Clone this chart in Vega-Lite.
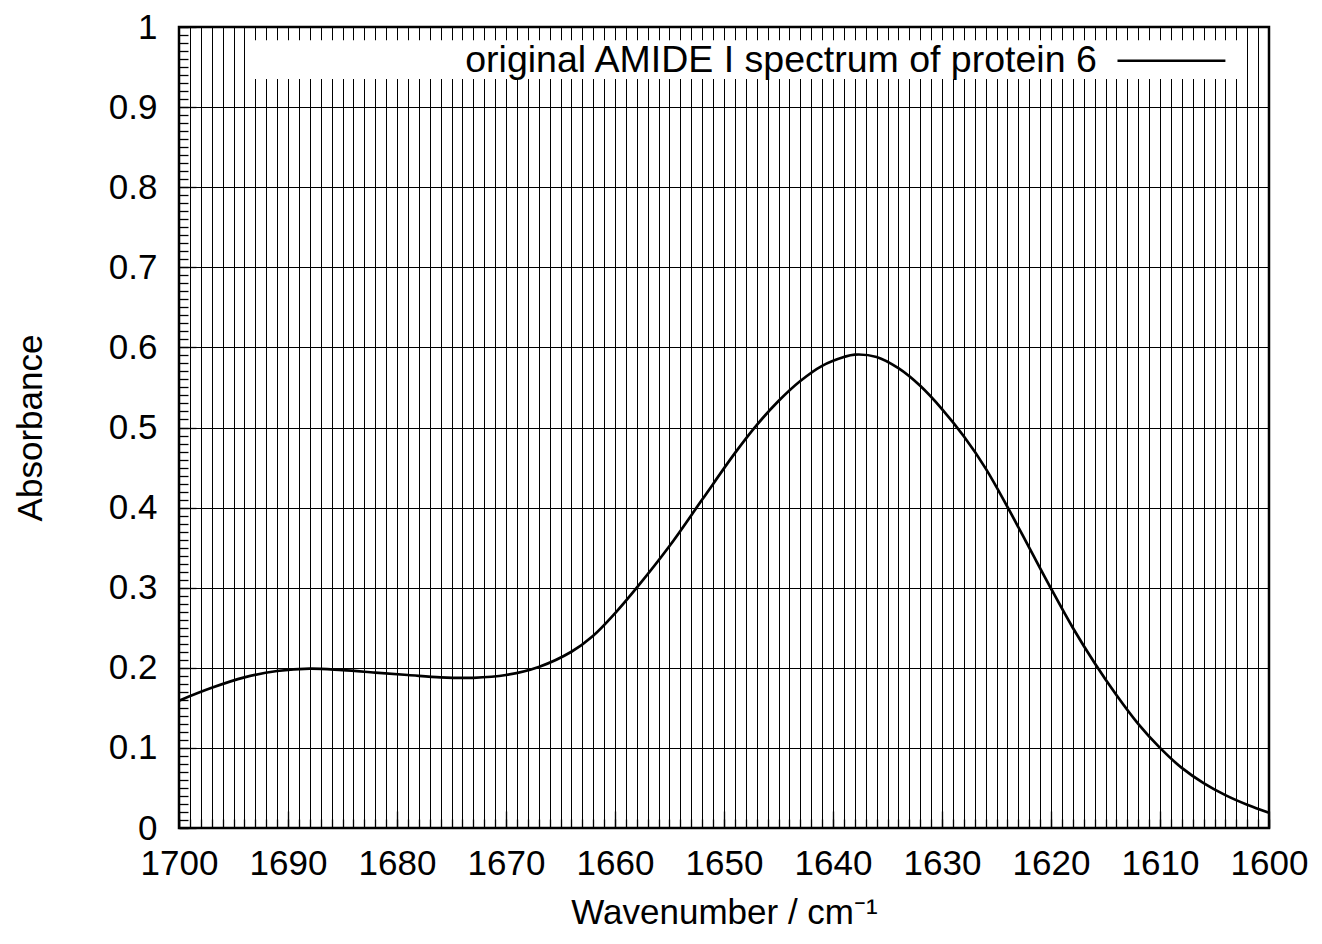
{
  "$schema": "https://vega.github.io/schema/vega-lite/v6.json",
  "width": 1090,
  "height": 801,
  "autosize": {"type": "none"},
  "padding": {"left": 179, "top": 27, "right": 53, "bottom": 116},
  "background": "white",
  "config": {
    "view": {"stroke": "#000", "strokeWidth": 2.5},
    "font": "Liberation Sans",
    "axis": {
      "labelFont": "Liberation Sans",
      "titleFont": "Liberation Sans",
      "labelColor": "#000",
      "titleColor": "#000",
      "labelFontSize": 35,
      "titleFontSize": 35,
      "titleFontWeight": "normal",
      "domain": false,
      "tickColor": "#000",
      "gridColor": "#000",
      "gridOpacity": 1,
      "gridWidth": 1,
      "tickWidth": 1.3,
      "labelOverlap": false,
      "labelFlush": false
    }
  },
  "datasets": {
    "spectrum": [
      {"w": 1700, "a": 0.159},
      {"w": 1697, "a": 0.175},
      {"w": 1694, "a": 0.188},
      {"w": 1691, "a": 0.196},
      {"w": 1688, "a": 0.199},
      {"w": 1685, "a": 0.197},
      {"w": 1682, "a": 0.194},
      {"w": 1679, "a": 0.191},
      {"w": 1676, "a": 0.188},
      {"w": 1673, "a": 0.1875},
      {"w": 1670, "a": 0.191},
      {"w": 1667, "a": 0.201},
      {"w": 1664, "a": 0.22},
      {"w": 1662, "a": 0.24},
      {"w": 1660, "a": 0.268},
      {"w": 1658, "a": 0.3},
      {"w": 1655, "a": 0.352},
      {"w": 1652, "a": 0.41},
      {"w": 1649, "a": 0.468},
      {"w": 1647, "a": 0.503},
      {"w": 1645, "a": 0.533},
      {"w": 1643, "a": 0.558},
      {"w": 1641, "a": 0.577},
      {"w": 1639, "a": 0.588},
      {"w": 1638, "a": 0.591},
      {"w": 1636, "a": 0.588},
      {"w": 1634, "a": 0.574},
      {"w": 1632, "a": 0.552},
      {"w": 1630, "a": 0.523},
      {"w": 1628, "a": 0.489},
      {"w": 1626, "a": 0.449},
      {"w": 1624, "a": 0.401},
      {"w": 1622, "a": 0.35},
      {"w": 1620, "a": 0.299},
      {"w": 1618, "a": 0.25},
      {"w": 1616, "a": 0.206},
      {"w": 1614, "a": 0.166},
      {"w": 1612, "a": 0.13},
      {"w": 1610, "a": 0.1},
      {"w": 1608, "a": 0.075},
      {"w": 1606, "a": 0.056},
      {"w": 1604, "a": 0.041},
      {"w": 1602, "a": 0.029},
      {"w": 1600, "a": 0.019}
    ]
  },
  "resolve": {"axis": {"x": "independent", "y": "independent"}},
  "layer": [
    {
      "data": {"name": "spectrum"},
      "mark": {"type": "point", "opacity": 0},
      "encoding": {
        "x": {
          "field": "w", "type": "quantitative",
          "scale": {"domain": [1600, 1700], "reverse": true, "nice": false, "zero": false},
          "axis": {
            "orient": "bottom",
            "values": [1600,1601,1602,1603,1604,1605,1606,1607,1608,1609,1610,1611,1612,1613,1614,1615,1616,1617,1618,1619,1620,1621,1622,1623,1624,1625,1626,1627,1628,1629,1630,1631,1632,1633,1634,1635,1636,1637,1638,1639,1640,1641,1642,1643,1644,1645,1646,1647,1648,1649,1650,1651,1652,1653,1654,1655,1656,1657,1658,1659,1660,1661,1662,1663,1664,1665,1666,1667,1668,1669,1670,1671,1672,1673,1674,1675,1676,1677,1678,1679,1680,1681,1682,1683,1684,1685,1686,1687,1688,1689,1690,1691,1692,1693,1694,1695,1696,1697,1698,1699,1700],
            "grid": true, "labels": false, "ticks": true, "tickSize": -9, "title": null
          }
        },
        "y": {
          "field": "a", "type": "quantitative",
          "scale": {"domain": [0, 1], "nice": false, "zero": true},
          "axis": {
            "orient": "left",
            "values": [0,0.01,0.02,0.03,0.04,0.05,0.06,0.07,0.08,0.09,0.1,0.11,0.12,0.13,0.14,0.15,0.16,0.17,0.18,0.19,0.2,0.21,0.22,0.23,0.24,0.25,0.26,0.27,0.28,0.29,0.3,0.31,0.32,0.33,0.34,0.35,0.36,0.37,0.38,0.39,0.4,0.41,0.42,0.43,0.44,0.45,0.46,0.47,0.48,0.49,0.5,0.51,0.52,0.53,0.54,0.55,0.56,0.57,0.58,0.59,0.6,0.61,0.62,0.63,0.64,0.65,0.66,0.67,0.68,0.69,0.7,0.71,0.72,0.73,0.74,0.75,0.76,0.77,0.78,0.79,0.8,0.81,0.82,0.83,0.84,0.85,0.86,0.87,0.88,0.89,0.9,0.91,0.92,0.93,0.94,0.95,0.96,0.97,0.98,0.99,1],
            "grid": false, "labels": false, "ticks": true, "tickSize": -9, "title": null
          }
        }
      }
    },
    {
      "data": {"name": "spectrum"},
      "mark": {"type": "point", "opacity": 0},
      "encoding": {
        "x": {
          "field": "w", "type": "quantitative",
          "axis": {"orient": "bottom", "values": [1600,1610,1620,1630,1640,1650,1660,1670,1680,1690,1700], "grid": false, "labels": false, "ticks": true, "tickSize": -17, "title": null}
        },
        "y": {
          "field": "a", "type": "quantitative",
          "axis": {"orient": "left", "values": [0,0.1,0.2,0.3,0.4,0.5,0.6,0.7,0.8,0.9,1], "grid": true, "labels": false, "ticks": true, "tickSize": -17, "title": null}
        }
      }
    },
    {
      "data": {"values": [{}]},
      "mark": {"type": "rect", "fill": "white", "strokeWidth": 0},
      "encoding": {
        "x": {"datum": 1693.5, "type": "quantitative", "axis": null},
        "x2": {"datum": 1602.5},
        "y": {"datum": 0.9835, "type": "quantitative", "axis": null},
        "y2": {"datum": 0.935}
      }
    },
    {
      "data": {"values": [{}]},
      "mark": {"type": "rule", "color": "#000", "strokeWidth": 2.5},
      "encoding": {
        "x": {"datum": 1613.9, "type": "quantitative", "axis": null},
        "x2": {"datum": 1604.0},
        "y": {"datum": 0.958, "type": "quantitative", "axis": null}
      }
    },
    {
      "data": {"values": [{}]},
      "mark": {"type": "text", "text": "original AMIDE I spectrum of protein 6", "align": "right", "baseline": "middle", "font": "Liberation Sans", "fontSize": 37.5, "color": "#000"},
      "encoding": {
        "x": {"datum": 1615.8, "type": "quantitative", "axis": null},
        "y": {"datum": 0.958, "type": "quantitative", "axis": null}
      }
    },
    {
      "data": {"name": "spectrum"},
      "mark": {"type": "line", "color": "#000", "strokeWidth": 2.7, "interpolate": "catmull-rom"},
      "encoding": {
        "x": {
          "field": "w", "type": "quantitative",
          "axis": {
            "orient": "bottom",
            "values": [1600,1610,1620,1630,1640,1650,1660,1670,1680,1690,1700],
            "format": "d", "grid": false, "ticks": false, "labelPadding": 18,
            "title": "Wavenumber / cm⁻¹", "titlePadding": 14
          }
        },
        "y": {
          "field": "a", "type": "quantitative",
          "axis": {
            "orient": "left",
            "values": [0,0.1,0.2,0.3,0.4,0.5,0.6,0.7,0.8,0.9,1],
            "format": "~g", "grid": false, "ticks": false, "labelPadding": 22,
            "title": "Absorbance", "titlePadding": 60
          }
        },
        "order": {"field": "w", "sort": "descending"}
      }
    }
  ]
}
